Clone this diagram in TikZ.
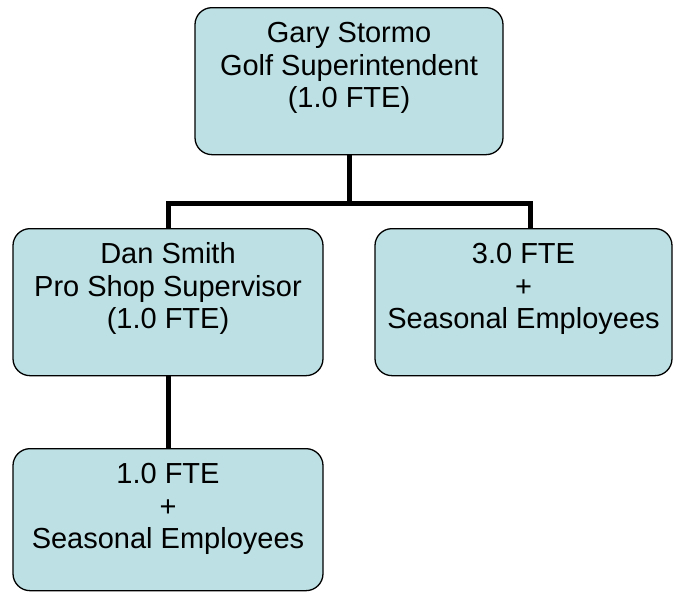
\documentclass[tikz,border=0pt]{standalone}
\usepackage{fontspec}
\setmainfont{Liberation Sans}
\usepackage{xcolor}
\definecolor{boxfill}{RGB}{188,224,227}

\begin{document}
\begin{tikzpicture}[x=1pt,y=-1pt,
  box/.style={draw=black,line width=1.3pt,fill=boxfill,rounded corners=17pt,
    align=center,inner sep=0pt,text height=100pt,text depth=47pt,
    font=\fontsize{29}{32.5}\selectfont,anchor=north},
  link/.style={line width=5pt}]
\useasboundingbox (0,0) rectangle (675,592);
\node[box,minimum width=308pt] (gary) at (349,7) {Gary Stormo\\Golf Superintendent\\(1.0 FTE)};
\node[box,minimum width=310pt] (dan) at (168,228) {Dan Smith\\Pro Shop Supervisor\\(1.0 FTE)};
\node[box,minimum width=297pt] (fte) at (523.5,228) {3.0 FTE\\+\\Seasonal Employees};
\node[box,minimum width=310pt,text depth=42pt] (staff) at (168,448) {1.0 FTE\\+\\Seasonal Employees};
% connectors
\draw[link] (gary.south) -- ++(0,49);
\draw[link] (dan.north) -- ++(0,-25) -| ([xshift=6.5pt]fte.north);
\draw[link] (dan.south) -- (staff.north);
\end{tikzpicture}
\end{document}
